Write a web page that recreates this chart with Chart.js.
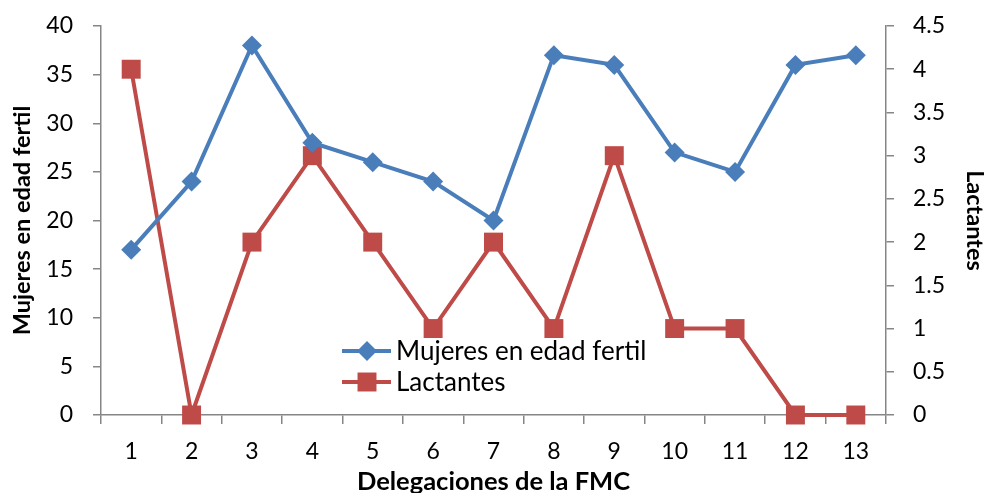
<!DOCTYPE html>
<html>
<head>
<meta charset="utf-8">
<script src="https://cdn.jsdelivr.net/npm/chart.js@4/dist/chart.umd.min.js"></script>
<style>
  html, body { margin: 0; padding: 0; background: #fff; }
  #wrap { width: 988px; height: 493px; position: relative; }
</style>
</head>
<body>
<div id="wrap"><canvas id="chart" width="988" height="493"></canvas></div>
<script>
// delegaciones 1..13
const delegaciones = ['1', '2', '3', '4', '5', '6', '7', '8', '9', '10', '11', '12', '13']
const mujeres = [17, 24, 38, 28, 26, 24, 20, 37, 36, 27, 25, 36, 37]
const lactantes = [4, 0, 2, 3, 2, 1, 2, 1, 3, 1, 1, 0, 0]

const FONT = 'Lato, "Open Sans", sans-serif'
const AXIS_GRAY = '#868686'
const BLUE = '#4A7EBB'
const RED = '#BE4B48'

// legend drawn inside the plot, Excel style
const insideLegend = {
  id: 'insideLegend',
  afterDraw (chart) {
    const ctx = chart.ctx
    const rows = [
      { ds: chart.data.datasets[0], y: 351 },
      { ds: chart.data.datasets[1], y: 382 }
    ]
    ctx.save()
    rows.forEach(({ ds, y }) => {
      ctx.strokeStyle = ds.borderColor
      ctx.lineWidth = ds.borderWidth
      ctx.beginPath()
      ctx.moveTo(342, y)
      ctx.lineTo(391, y)
      ctx.stroke()
      ctx.fillStyle = ds.pointBackgroundColor
      Chart.helpers.drawPoint(ctx, {
        pointStyle: ds.pointStyle,
        radius: ds.pointRadius,
        borderWidth: 0
      }, 367, y)
      ctx.fillStyle = '#000'
      ctx.font = '26px ' + FONT
      ctx.textBaseline = 'middle'
      ctx.fillText(ds.label, 396, y + 1)
    })
    ctx.restore()
  }
}

const tickFont = { family: FONT, size: 23 }
const plainNum = v => String(v)

// fixed axis box sizes so the plot area sits where the reference has it
function fixVertical (w) {
  return scale => {
    scale.width = w
    scale.paddingTop = 0
    scale.paddingBottom = 0
  }
}

const ctx = document.getElementById('chart').getContext('2d')
new Chart(ctx, {
  type: 'line',
  data: {
    labels: delegaciones,
    datasets: [
      {
        label: 'Mujeres en edad fertil',
        data: mujeres,
        yAxisID: 'y',
        borderColor: BLUE,
        backgroundColor: BLUE,
        pointBackgroundColor: BLUE,
        pointBorderColor: BLUE,
        borderWidth: 4,
        pointStyle: 'rectRot',
        pointRadius: 10,
        pointBorderWidth: 0,
        tension: 0,
        clip: false,
        order: 0
      },
      {
        label: 'Lactantes',
        data: lactantes,
        yAxisID: 'y1',
        borderColor: RED,
        backgroundColor: RED,
        pointBackgroundColor: RED,
        pointBorderColor: RED,
        borderWidth: 4,
        pointStyle: 'rect',
        pointRadius: 13.4,
        pointBorderWidth: 0,
        tension: 0,
        clip: false,
        order: 1
      }
    ]
  },
  options: {
    responsive: false,
    animation: false,
    devicePixelRatio: 1,
    layout: { padding: { top: 26, left: 0, right: 0, bottom: 0 } },
    plugins: {
      legend: { display: false },
      tooltip: { enabled: false }
    },
    scales: {
      x: {
        offset: true,
        border: { color: AXIS_GRAY, width: 1.5 },
        grid: { offset: true, drawOnChartArea: false, tickLength: 9, color: AXIS_GRAY, lineWidth: 1.5 },
        ticks: { color: '#000', font: tickFont, padding: 14, maxRotation: 0, autoSkip: false },
        title: {
          display: true,
          text: 'Delegaciones de la FMC',
          color: '#000',
          font: { family: FONT, size: 25.5, weight: 'bold' },
          padding: { top: 0, bottom: -4 }
        },
        afterFit (scale) {
          scale.height = 78
          scale.paddingLeft = 0
          scale.paddingRight = 0
        }
      },
      y: {
        position: 'left',
        min: 0,
        max: 40,
        border: { color: AXIS_GRAY, width: 1.5 },
        grid: { drawOnChartArea: false, tickLength: 8, color: AXIS_GRAY, lineWidth: 1.5 },
        ticks: { stepSize: 5, color: '#000', font: tickFont, padding: 20, autoSkip: false, callback: plainNum },
        title: {
          display: true,
          text: 'Mujeres en edad fertil',
          color: '#000',
          font: { family: FONT, size: 23.5, weight: 'bold' },
          padding: { top: 8, bottom: 0 }
        },
        afterFit: fixVertical(101)
      },
      y1: {
        position: 'right',
        min: 0,
        max: 4.5,
        border: { color: AXIS_GRAY, width: 1.5 },
        grid: { drawOnChartArea: false, tickLength: 8, color: AXIS_GRAY, lineWidth: 1.5 },
        ticks: { stepSize: 0.5, color: '#000', font: tickFont, padding: 19, autoSkip: false, callback: plainNum },
        title: {
          display: true,
          text: 'Lactantes',
          color: '#000',
          font: { family: FONT, size: 23.5, weight: 'bold' },
          padding: { top: -1, bottom: 0 }
        },
        afterFit: fixVertical(102)
      }
    }
  },
  plugins: [insideLegend]
})
</script>
</body>
</html>
